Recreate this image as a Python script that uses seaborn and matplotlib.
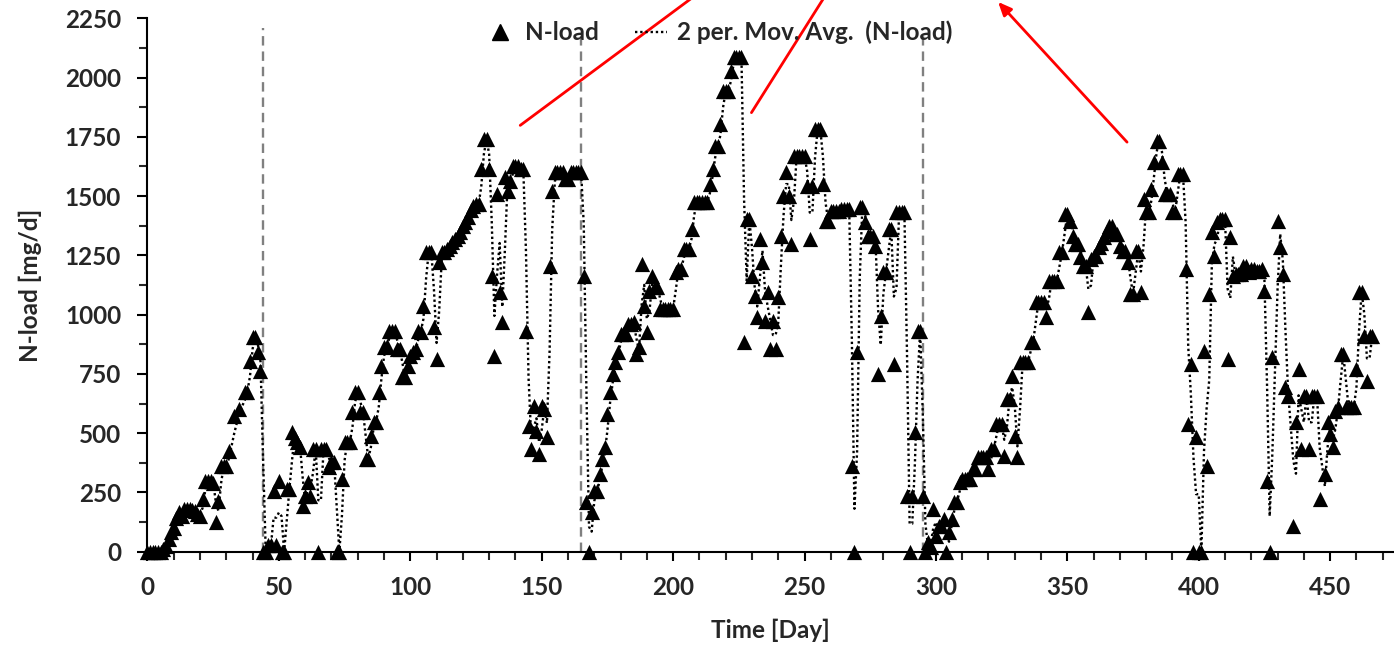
import numpy as np
import pandas as pd
import matplotlib
matplotlib.use("Agg")
import matplotlib.pyplot as plt
from matplotlib.lines import Line2D
import seaborn as sns

# (day, N-load mg/d), one list per period between the dashed lines
phase_1 = [(0, 0), (1, 0), (2, 0), (3, 0), (4, 0), (5, 0), (6, 10), (7, 25), (8, 55), (9, 85),
           (10, 100), (11, 140), (12, 168), (13, 150), (14, 180), (15, 180), (16, 180), (17, 175),
           (18, 170), (19, 160), (20, 150), (21, 222), (22, 300), (23, 300), (24, 300), (25, 290),
           (26, 126), (27, 215), (28, 362), (29, 362), (30, 362), (31, 425), (33, 573), (35, 603),
           (37, 674), (38, 674), (39, 805), (40, 906), (41, 906), (42, 843), (43, 763), (44, 0)]

phase_2 = [(45, 0), (46, 30), (47, 30), (48, 257), (49, 30), (50, 300), (51, 0), (52, 0), (53, 265),
           (54, 265), (55, 505), (56, 480), (57, 463), (58, 442), (59, 194), (60, 236), (61, 295),
           (62, 236), (63, 434), (64, 434), (65, 0), (66, 434), (67, 434), (68, 434), (69, 358),
           (70, 379), (71, 379), (72, 0), (73, 0), (74, 308), (75, 463), (76, 463), (77, 463),
           (78, 590), (79, 674), (80, 674), (81, 590), (82, 590), (83, 392), (84, 392), (85, 489),
           (86, 548), (87, 548), (88, 674), (89, 784), (90, 864), (91, 868), (92, 931), (93, 931),
           (94, 931), (95, 855), (96, 855), (97, 737), (98, 737), (99, 784), (100, 826), (101, 843),
           (102, 855), (103, 931), (104, 927), (105, 1037), (106, 1264), (107, 1264), (108, 1264),
           (109, 948), (110, 813), (111, 1222), (112, 1264), (113, 1264), (114, 1277), (115, 1290),
           (116, 1306), (117, 1320), (118, 1332), (119, 1350), (120, 1374), (121, 1390), (122, 1412),
           (123, 1440), (124, 1458), (125, 1466), (126, 1466), (127, 1614), (128, 1740), (129, 1740),
           (130, 1614), (131, 1163), (132, 826), (133, 1508), (134, 1096), (135, 969), (136, 1580),
           (137, 1521), (138, 1563), (139, 1627), (140, 1627), (141, 1627), (142, 1614), (143, 1614),
           (144, 931), (145, 531), (146, 434), (147, 615), (148, 510), (149, 413), (150, 615),
           (151, 600), (152, 485), (153, 1205), (154, 1521), (155, 1601), (156, 1601), (157, 1601),
           (158, 1601), (159, 1572), (160, 1572), (161, 1601), (162, 1601), (163, 1601), (164, 1601),
           (165, 1601)]

phase_3 = [(166, 1163), (167, 211), (168, 0), (169, 169), (170, 257), (171, 257), (172, 329),
           (173, 392), (174, 442), (175, 581), (176, 674), (177, 750), (178, 800), (179, 843),
           (180, 918), (181, 918), (182, 918), (183, 961), (184, 961), (185, 969), (186, 834),
           (187, 864), (188, 1214), (189, 1037), (190, 927), (191, 1100), (192, 1163), (193, 1117),
           (194, 1117), (195, 1024), (196, 1024), (197, 1024), (198, 1024), (199, 1024), (200, 1024),
           (201, 1180), (202, 1193), (203, 1193), (204, 1277), (205, 1277), (206, 1277), (207, 1361),
           (208, 1475), (209, 1475), (210, 1475), (211, 1475), (212, 1475), (213, 1475), (214, 1550),
           (215, 1614), (216, 1711), (217, 1711), (218, 1804), (219, 1943), (220, 1943), (221, 1943),
           (222, 2027), (223, 2086), (224, 2086), (225, 2086), (226, 2086), (227, 885), (228, 1403),
           (229, 1403), (230, 1163), (231, 1079), (232, 990), (233, 1319), (234, 1222), (235, 973),
           (236, 1096), (237, 855), (238, 973), (239, 855), (240, 1075), (241, 1332), (242, 1500),
           (243, 1601), (244, 1500), (245, 1298), (246, 1669), (247, 1669), (248, 1669), (249, 1669),
           (250, 1669), (251, 1542), (252, 1319), (253, 1542), (254, 1783), (255, 1783), (256, 1783),
           (257, 1551), (258, 1395), (259, 1395), (260, 1437), (261, 1437), (262, 1437), (263, 1437),
           (264, 1445), (265, 1445), (266, 1445), (267, 1445), (268, 362), (269, 0), (270, 843),
           (271, 1454), (272, 1454), (273, 1391), (274, 1332), (275, 1332), (276, 1332), (277, 1290),
           (278, 750), (279, 995), (280, 1180), (281, 1180), (282, 1361), (283, 1361), (284, 792),
           (285, 1433), (286, 1433), (287, 1433), (288, 1433), (289, 236), (290, 0), (291, 236),
           (292, 506), (293, 931), (294, 931), (295, 236)]

phase_4 = [(296, 0), (297, 42), (298, 20), (299, 181), (300, 67), (301, 110), (302, 110), (303, 139),
           (304, 0), (305, 84), (306, 139), (307, 211), (308, 211), (309, 295), (310, 308), (311, 308),
           (312, 308), (313, 308), (314, 350), (315, 350), (316, 400), (317, 400), (318, 400),
           (319, 400), (320, 350), (321, 434), (322, 434), (323, 539), (324, 539), (325, 539),
           (326, 405), (327, 645), (328, 645), (329, 742), (330, 489), (331, 400), (332, 800),
           (333, 800), (334, 800), (335, 800), (336, 885), (337, 885), (338, 1054), (339, 1054),
           (340, 1054), (341, 1054), (342, 990), (343, 1142), (344, 1142), (345, 1142), (346, 1142),
           (347, 1264), (348, 1264), (349, 1424), (350, 1424), (351, 1395), (352, 1332), (353, 1298),
           (354, 1298), (355, 1243), (356, 1205), (357, 1205), (358, 1011), (359, 1235), (360, 1247),
           (361, 1247), (362, 1285), (363, 1300), (364, 1327), (365, 1353), (366, 1374), (367, 1374),
           (368, 1340), (369, 1340), (370, 1290), (371, 1268), (372, 1268), (373, 1222), (374, 1087),
           (375, 1087), (376, 1268), (377, 1268), (378, 1096), (379, 1487), (380, 1433), (381, 1433),
           (382, 1530), (383, 1643), (384, 1732), (385, 1732), (386, 1643), (387, 1508), (388, 1508),
           (389, 1508), (390, 1433), (391, 1433), (392, 1593), (393, 1593), (394, 1593), (395, 1193),
           (396, 539), (397, 792), (398, 0), (399, 485), (400, 0), (401, 0), (402, 847), (403, 362),
           (404, 1087), (405, 1348), (406, 1247), (407, 1391), (408, 1403), (409, 1403), (410, 1403),
           (411, 813), (412, 1327), (413, 1163), (414, 1171), (415, 1171), (416, 1171), (417, 1205),
           (418, 1205), (419, 1180), (420, 1193), (421, 1193), (422, 1184), (423, 1184), (424, 1193),
           (425, 1100), (426, 299), (427, 0), (428, 822), (430, 1395), (431, 1285), (432, 1171),
           (433, 695), (434, 658), (436, 110), (437, 548), (438, 771), (439, 434), (440, 658),
           (441, 658), (442, 434), (443, 658), (444, 658), (445, 658), (446, 223), (448, 329),
           (449, 548), (450, 497), (451, 442), (452, 594), (453, 611), (454, 834), (455, 834),
           (456, 611), (457, 611), (458, 611), (459, 611), (460, 771), (461, 1096), (462, 1096),
           (463, 910), (464, 721), (465, 910), (466, 910)]

phase_ends = [44, 165, 295]

df = pd.DataFrame(phase_1 + phase_2 + phase_3 + phase_4, columns=["day", "n_load"])
# Excel style 2-period moving average trendline
df["mov_avg"] = df["n_load"].rolling(2).mean()

sns.set_style("ticks")
plt.rcParams["font.family"] = ["Lato", "DejaVu Sans"]
plt.rcParams["font.weight"] = "bold"

fs = 17.5
fig = plt.figure(figsize=(13.94, 6.46), dpi=100)
ax = fig.add_axes([0.1058, 0.146, 0.8942, 0.8257])

ax.vlines(phase_ends, 0, 2210, colors="#808080", linestyles=(0, (4, 2.5)), linewidth=1.7, zorder=1)

sns.lineplot(data=df, x="day", y="mov_avg", estimator=None, sort=False, color="black",
             linestyle=(0, (1, 1.2)), linewidth=1.7, ax=ax, zorder=2)
sns.scatterplot(data=df, x="day", y="n_load", marker="^", s=120, color="black",
                linewidth=0, ax=ax, zorder=3, clip_on=False)

ax.set_xlim(0, 474.3)
ax.set_ylim(0, 2250)
ax.set_xticks(np.arange(0, 451, 50))
ax.set_xticks(np.arange(0, 475, 10), minor=True)
ax.set_yticks(np.arange(0, 2251, 250))
ax.set_yticks(np.arange(125, 2250, 250), minor=True)
ax.tick_params(axis="both", which="major", labelsize=fs, width=1.5, color="black")
ax.tick_params(axis="y", which="major", length=7, pad=12)
ax.tick_params(axis="y", which="minor", length=6, width=1.5)
ax.tick_params(axis="x", which="major", length=6.5, pad=11)
ax.tick_params(axis="x", which="minor", length=5.5, width=1.5)
for lab in ax.get_xticklabels() + ax.get_yticklabels():
    lab.set_fontweight("bold")

sns.despine(ax=ax)
for side in ["left", "bottom"]:
    ax.spines[side].set_linewidth(1.5)
    ax.spines[side].set_color("black")

ax.set_xlabel("Time [Day]", fontsize=fs, fontweight="bold", color="#262626")
ax.set_ylabel("N-load [mg/d]", fontsize=fs, fontweight="bold", color="#262626")
ax.xaxis.set_label_coords(0.5, -0.125)
ax.yaxis.set_label_coords(-0.085, 0.5)

handles = [Line2D([], [], marker="^", color="black", linestyle="none", markersize=11),
           Line2D([], [], color="black", linestyle=(0, (1, 1.2)), linewidth=1.7)]
fig.legend(handles, ["N-load", "2 per. Mov. Avg.  (N-load)"], loc="center",
           bbox_to_anchor=(0.515, 0.95), ncol=2, frameon=False, handlelength=1.3,
           handletextpad=0.4, columnspacing=1.5, prop={"size": fs, "weight": "bold"})

# red annotation arrows pointing out of the chart
red = "#ff0000"
ax.annotate("", xy=(0.4975, 1.005), xytext=(0.3716, 0.8034), xycoords="figure fraction",
            textcoords="figure fraction", arrowprops=dict(arrowstyle="-", color=red, lw=2))
ax.annotate("", xy=(0.5915, 1.005), xytext=(0.538, 0.822), xycoords="figure fraction",
            textcoords="figure fraction", arrowprops=dict(arrowstyle="-", color=red, lw=2))
ax.annotate("", xy=(0.716, 0.997), xytext=(0.8085, 0.780), xycoords="figure fraction",
            textcoords="figure fraction",
            arrowprops=dict(arrowstyle="-|>,head_length=0.8,head_width=0.35", color=red, lw=2,
                            shrinkA=0, shrinkB=0))

fig.savefig("out.png", dpi=100)
